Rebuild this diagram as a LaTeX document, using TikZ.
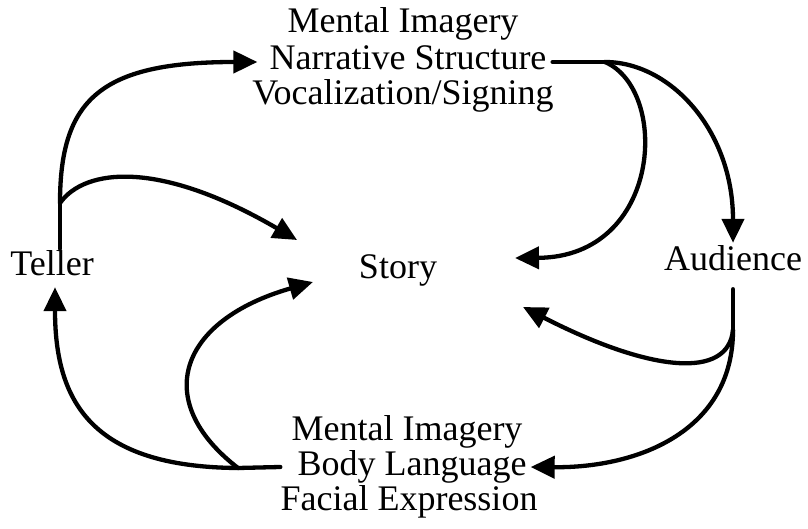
\documentclass[tikz,border=0pt]{standalone}
\usepackage{fontspec}
\setmainfont{Liberation Serif}
\usetikzlibrary{arrows.meta}
\begin{document}
\begin{tikzpicture}[x=1pt,y=-1pt,
  lbl/.style={font=\fontsize{36}{40}\selectfont, inner sep=2pt, text height=25pt, text depth=9pt, anchor=base},
  ln/.style={line width=4.3pt, line cap=round, line join=round},
  arr/.style={ln, -{Triangle[length=24pt,width=22pt]}}]
\useasboundingbox (0,0) rectangle (808,529);
% text nodes
\node[lbl] (teller) at (52,276) {Teller};
\node[lbl] (story) at (398,278) {Story};
\node[lbl] (aud) at (733,270) {Audience};
\node[lbl] (tm) at (403,33) {Mental Imagery};
\node[lbl] (narr) at (408,70) {Narrative Structure};
\node[lbl] (voc) at (403,105) {Vocalization/Signing};
\node[lbl] (bm) at (407,440) {Mental Imagery};
\node[lbl] (body) at (412,475) {Body Language};
\node[lbl] (fac) at (409,510) {Facial Expression};
% branch points and free ends near Story
\coordinate (b1) at (60,203);
\coordinate (b2) at (605,62);
\coordinate (b3) at (733,330);
\coordinate (b4) at (238,468);
\coordinate (s1) at (297,240);
\coordinate (s2) at (515,258);
\coordinate (s3) at (523,307);
\coordinate (s4) at (313,282);
% Teller -> top list, Teller -> Story
\draw[ln] ([xshift=8pt]teller.north) -- (b1);
\draw[arr] (b1) .. controls (60,100) and (100,62) .. ([xshift=-10pt]narr.west);
\draw[arr] (b1) .. controls (85,168) and (160,160) .. (s1);
% top list -> Audience, top list -> Story
\draw[ln] ([xshift=4pt]narr.east) -- (b2);
\draw[arr] (b2) .. controls (670,62) and (733,130) .. (aud.north);
\draw[arr] (b2) .. controls (670,90) and (662,257) .. (s2);
% Audience -> Story, Audience -> bottom list
\draw[ln] ([yshift=-8pt]aud.south) -- (b3);
\draw[arr] (b3) .. controls (728,380) and (650,372) .. (s3);
\draw[arr] (b3) .. controls (733,430) and (640,468) .. ([xshift=2pt]body.east);
% bottom list -> Teller, bottom list -> Story
\draw[ln] ([xshift=-15pt]body.west) -- (b4);
\draw[arr] (b4) .. controls (90,467) and (55,400) .. ([xshift=3pt]teller.south);
\draw[arr] (b4) .. controls (150,400) and (180,320) .. (s4);
\end{tikzpicture}
\end{document}
